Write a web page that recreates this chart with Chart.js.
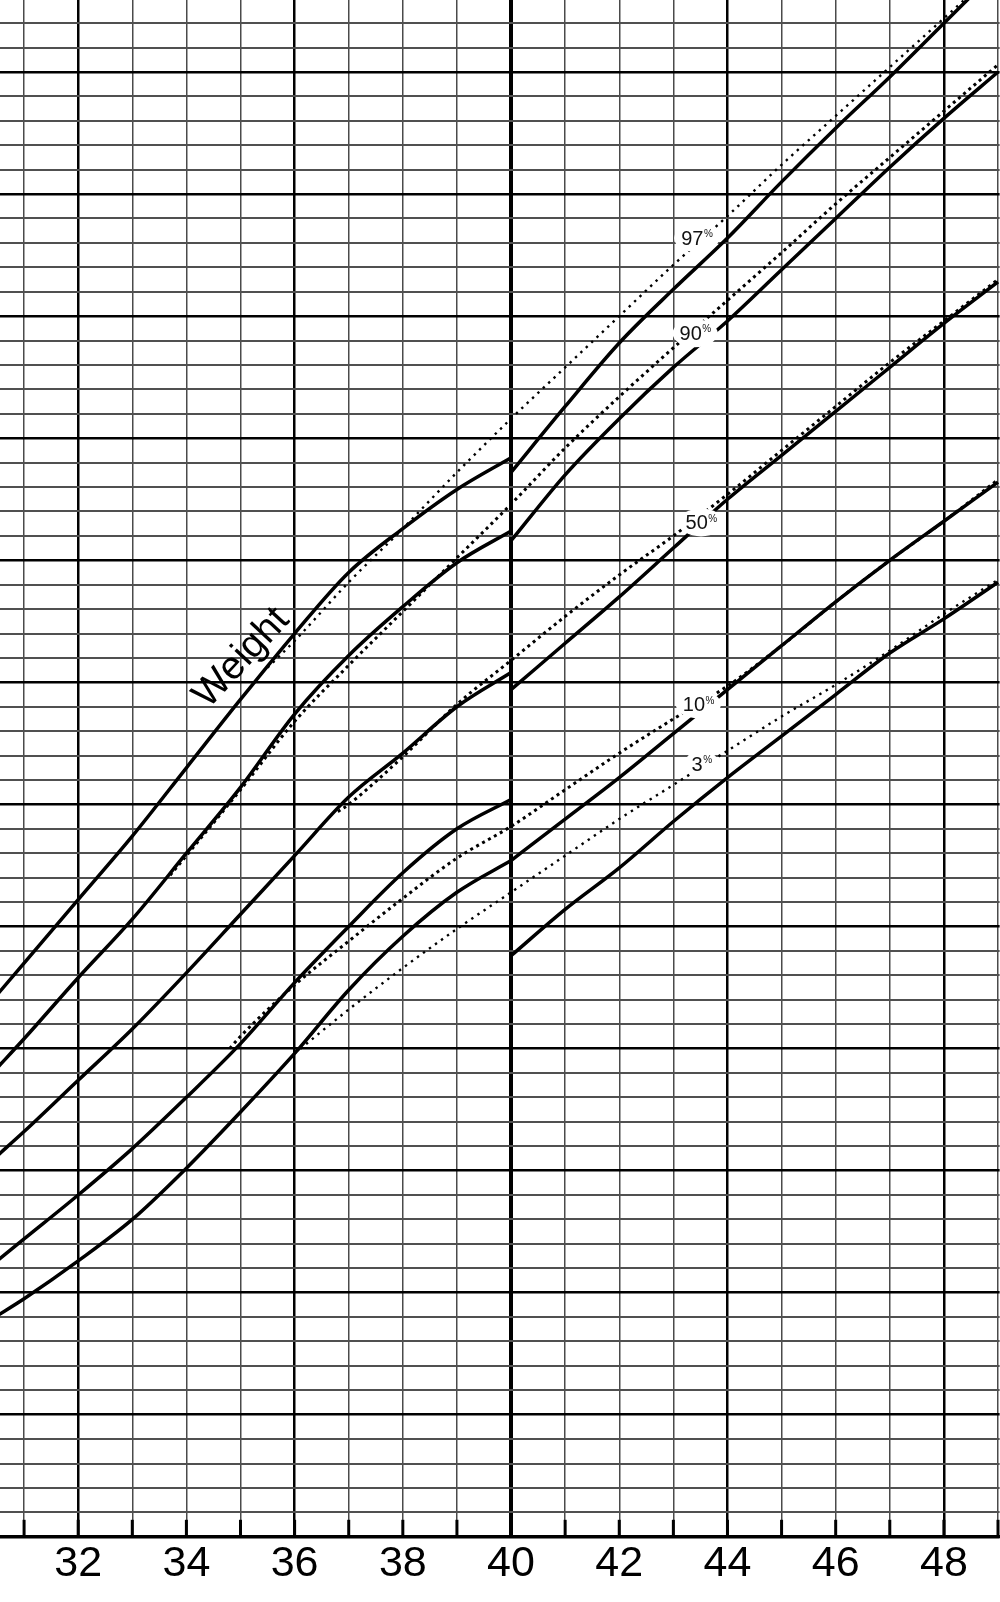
<!DOCTYPE html>
<html>
<head>
<meta charset="utf-8">
<title>Weight</title>
<script src="https://cdn.jsdelivr.net/npm/chart.js@4.4.1/dist/chart.umd.min.js"></script>
<style>
  html, body { margin: 0; padding: 0; background: #fff; }
  #wrap { width: 1000px; height: 1602px; }
</style>
</head>
<body>
<div id="wrap"><canvas id="grafico" width="1000" height="1602"></canvas></div>
<script>
// Semanas de gestación (curvas continuas, antes y después de la semana 40)
const SEMANAS_PRE = [30.5, 31, 32, 33, 34, 35, 36, 37, 38, 39, 40];
const SEMANAS_POST = [40, 41, 42, 43, 44, 45, 46, 47, 48, 49];

// Percentiles de peso (kg), curvas continuas
const P97_PRE = [2.22, 2.35, 2.61, 2.87, 3.15, 3.43, 3.70, 3.95, 4.13, 4.29, 4.42];
const P90_PRE = [1.92, 2.04, 2.29, 2.53, 2.80, 3.07, 3.37, 3.61, 3.81, 3.99, 4.12];
const P50_PRE = [1.56, 1.66, 1.87, 2.08, 2.31, 2.55, 2.79, 3.03, 3.21, 3.40, 3.54];
const P10_PRE = [1.13, 1.22, 1.40, 1.59, 1.80, 2.02, 2.27, 2.50, 2.72, 2.90, 3.02];
const P3_PRE = [0.905, 0.975, 1.13, 1.30, 1.51, 1.74, 1.98, 2.24, 2.46, 2.64, 2.77];

const P97_POST = [4.36, 4.63, 4.89, 5.11, 5.32, 5.55, 5.77, 5.98, 6.20, 6.42];
const P90_POST = [4.08, 4.35, 4.58, 4.79, 4.98, 5.19, 5.40, 5.61, 5.81, 6.00];
const P50_POST = [3.47, 3.66, 3.85, 4.05, 4.25, 4.43, 4.61, 4.79, 4.97, 5.14];
const P10_POST = [2.77, 2.94, 3.11, 3.29, 3.47, 3.65, 3.83, 4.00, 4.16, 4.32];
const P3_POST = [2.38, 2.57, 2.74, 2.93, 3.11, 3.28, 3.45, 3.62, 3.76, 3.91];

// Curvas punteadas (otra referencia)
const SEM_D97 = [35.5, 36, 37, 38, 39, 40, 41, 42, 43, 44, 45, 46, 47, 48, 49];
const D97 = [3.56, 3.67, 3.91, 4.13, 4.36, 4.58, 4.79, 5.00, 5.21, 5.41, 5.62, 5.82, 6.02, 6.22, 6.42];
const SEM_D90 = [33.7, 34, 35, 36, 37, 38, 39, 40, 41, 42, 43, 44, 45, 46, 47, 48, 49];
const D90 = [2.71, 2.79, 3.06, 3.34, 3.57, 3.79, 4.01, 4.23, 4.46, 4.67, 4.87, 5.065, 5.26, 5.46, 5.65, 5.84, 6.03];
const SEM_D50 = [36.8, 37, 38, 39, 40, 41, 42, 43, 44, 45, 46, 47, 48, 49];
const D50 = [2.97, 3.00, 3.195, 3.41, 3.59, 3.77, 3.94, 4.10, 4.27, 4.45, 4.63, 4.81, 4.98, 5.15];
const SEM_D10 = [34.8, 35, 36, 37, 38, 39, 40, 41, 42, 43, 44, 45, 46, 47, 48, 49];
const D10 = [2.00, 2.05, 2.26, 2.44, 2.615, 2.78, 2.91, 3.06, 3.21, 3.35, 3.485, 3.65, 3.83, 4.00, 4.16, 4.33];
const SEM_D3 = [36, 37, 38, 39, 40, 41, 42, 43, 44, 45, 46, 47, 48, 49];
const D3 = [1.98, 2.16, 2.33, 2.49, 2.64, 2.79, 2.94, 3.08, 3.22, 3.36, 3.49, 3.63, 3.78, 3.92];

// Etiquetas de percentil: texto, semana y peso donde se ubican
const ETIQUETAS = ['97', '90', '50', '10', '3'];
const ETIQ_SEMANA = [43.35, 43.32, 43.43, 43.38, 43.44];
const ETIQ_PESO = [5.32, 4.93, 4.155, 3.41, 3.165];

const TITULO = 'Weight';
const TITULO_SEMANA = 35.02;
const TITULO_PESO = 3.60;

const FUENTE = '"Liberation Sans", Arial, Helvetica, sans-serif';

function puntos(semanas, valores) {
    return semanas.map((s, i) => ({ x: s, y: valores[i] }));
}

function continua(semanas, valores) {
    return {
        data: puntos(semanas, valores),
        borderColor: '#000',
        borderWidth: 3.5,
        pointRadius: 0,
        fill: false,
        cubicInterpolationMode: 'monotone',
        order: 0
    };
}

// densa: puntos gruesos (90, 50, 10); fina: puntos pequeños (97, 3)
function punteada(semanas, valores, densa) {
    return {
        data: puntos(semanas, valores),
        borderColor: '#000',
        borderWidth: densa ? 3 : 2.4,
        borderDash: densa ? [3, 3.8] : [2.4, 5],
        pointRadius: 0,
        fill: false,
        cubicInterpolationMode: 'monotone',
        order: 1
    };
}

// Dibuja marcas del eje, etiquetas de percentil y el título girado
const decoracion = {
    id: 'decoracion',
    afterDatasetsDraw(chart) {
        const { ctx, scales: { x, y }, chartArea } = chart;
        ctx.save();

        // marcas cortas sobre el eje
        ctx.strokeStyle = '#000';
        ctx.lineWidth = 3;
        for (let w = Math.ceil(x.min); w <= x.max; w++) {
            const px = x.getPixelForValue(w);
            ctx.beginPath();
            ctx.moveTo(px, chartArea.bottom);
            ctx.lineTo(px, chartArea.bottom - 17);
            ctx.stroke();
        }

        // etiquetas 97%, 90%...
        ETIQUETAS.forEach((txt, i) => {
            const cx = x.getPixelForValue(ETIQ_SEMANA[i]);
            const cy = y.getPixelForValue(ETIQ_PESO[i]);
            ctx.font = '20px ' + FUENTE;
            const w = ctx.measureText(txt).width;
            ctx.font = '10px ' + FUENTE;
            const wp = ctx.measureText('%').width;

            ctx.fillStyle = '#fff';
            ctx.beginPath();
            ctx.ellipse(cx + wp / 2, cy, (w + wp) / 2 + 7, 14, 0, 0, Math.PI * 2);
            ctx.fill();

            ctx.fillStyle = '#111';
            ctx.textBaseline = 'middle';
            ctx.textAlign = 'center';
            ctx.font = '20px ' + FUENTE;
            ctx.fillText(txt, cx, cy + 1);
            ctx.textAlign = 'left';
            ctx.textBaseline = 'top';
            ctx.font = '10px ' + FUENTE;
            ctx.fillText('%', cx + w / 2 + 0.5, cy - 8.5);
        });

        // título "Weight"
        const tx = x.getPixelForValue(TITULO_SEMANA);
        const ty = y.getPixelForValue(TITULO_PESO);
        ctx.translate(tx, ty);
        ctx.rotate(-47 * Math.PI / 180);
        ctx.fillStyle = '#000';
        ctx.font = '39px ' + FUENTE;
        ctx.textAlign = 'center';
        ctx.textBaseline = 'middle';
        ctx.fillText(TITULO, 0, 0);

        ctx.restore();
    }
};

const ctx = document.getElementById('grafico').getContext('2d');

new Chart(ctx, {
    type: 'line',
    data: {
        datasets: [
            continua(SEMANAS_PRE, P97_PRE),
            continua(SEMANAS_PRE, P90_PRE),
            continua(SEMANAS_PRE, P50_PRE),
            continua(SEMANAS_PRE, P10_PRE),
            continua(SEMANAS_PRE, P3_PRE),
            continua(SEMANAS_POST, P97_POST),
            continua(SEMANAS_POST, P90_POST),
            continua(SEMANAS_POST, P50_POST),
            continua(SEMANAS_POST, P10_POST),
            continua(SEMANAS_POST, P3_POST),
            punteada(SEM_D97, D97, false),
            punteada(SEM_D90, D90, true),
            punteada(SEM_D50, D50, true),
            punteada(SEM_D10, D10, true),
            punteada(SEM_D3, D3, false)
        ]
    },
    options: {
        responsive: false,
        devicePixelRatio: 1,
        animation: false,
        layout: { padding: { left: 0, right: 0, top: 0, bottom: 9.6 } },
        plugins: {
            legend: { display: false },
            tooltip: { enabled: false }
        },
        scales: {
            x: {
                type: 'linear',
                min: 30.555,
                max: 49.03,
                grid: {
                    drawTicks: false,
                    color: (c) => {
                        const v = c.tick ? c.tick.value : 0;
                        return v % 4 === 0 ? '#000' : '#4a4a4a';
                    },
                    lineWidth: (c) => {
                        const v = c.tick ? c.tick.value : 0;
                        if (v === 40) return 4;
                        return v % 4 === 0 ? 2.5 : 1.5;
                    }
                },
                border: { display: true, color: '#000', width: 3 },
                ticks: {
                    stepSize: 1,
                    autoSkip: false,
                    includeBounds: false,
                    maxRotation: 0,
                    padding: 2,
                    color: '#000',
                    font: { family: FUENTE, size: 43 },
                    callback: (v) => (v % 2 === 0 ? String(v) : '')
                }
            },
            y: {
                type: 'linear',
                min: 0,
                max: 6.295,
                grid: {
                    drawTicks: false,
                    color: (c) => {
                        const v = c.tick ? Math.round(c.tick.value * 10) : 1;
                        return v % 5 === 0 ? '#000' : '#505050';
                    },
                    lineWidth: (c) => {
                        const v = c.tick ? Math.round(c.tick.value * 10) : 1;
                        return v % 5 === 0 ? 2.5 : 2;
                    }
                },
                border: { display: false },
                ticks: {
                    display: false,
                    stepSize: 0.1,
                    includeBounds: false
                }
            }
        }
    },
    plugins: [decoracion]
});
</script>
</body>
</html>
